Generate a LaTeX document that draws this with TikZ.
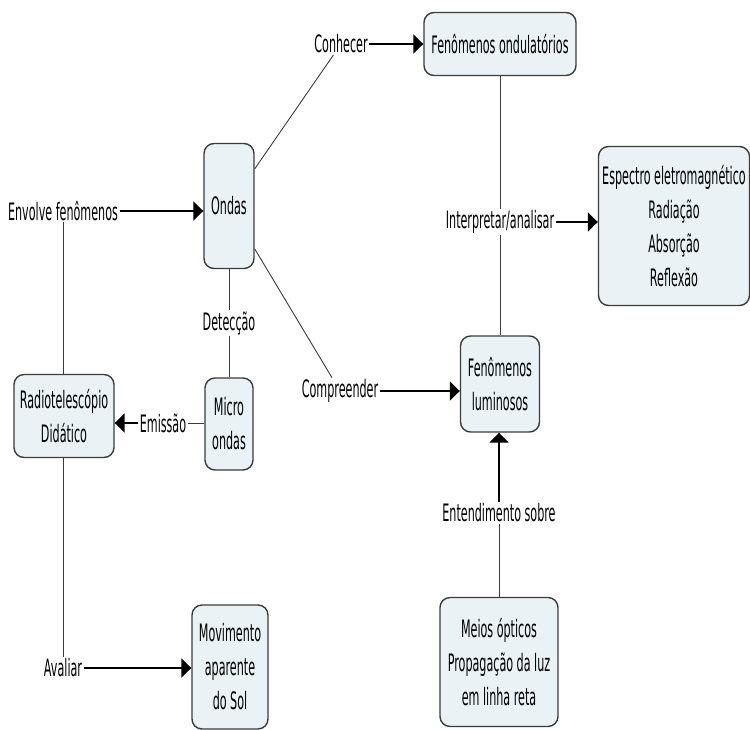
\documentclass[tikz,border=0pt]{standalone}
\usepackage{fontspec}
\setmainfont{DejaVu Sans}[FakeStretch=0.465]
\usetikzlibrary{arrows.meta}
\definecolor{boxfill}{RGB}{234,242,245}
\definecolor{edgegray}{RGB}{60,60,60}
\begin{document}
\begin{tikzpicture}[x=1pt,y=-1pt,
  concept/.style={draw=edgegray,line width=1.4pt,fill=boxfill,rounded corners=10pt,
    align=center,inner sep=0pt,font=\fontsize{24}{34}\selectfont},
  lbl/.style={fill=white,inner sep=1.5pt,font=\fontsize{24}{34}\selectfont},
  link/.style={draw=edgegray,line width=0.9pt},
  arr/.style={draw=black,line width=1.8pt,-{Triangle[length=10pt,width=19pt]}}]
\fill[white] (0,0) rectangle (750,729);
\useasboundingbox (0,0) rectangle (750,729);
% concepts
\node[concept,minimum width=152pt,minimum height=63pt] (fondul) at (500,44) {Fenômenos ondulatórios};
\node[concept,minimum width=50pt,minimum height=125pt] (ondas) at (229,206) {Ondas};
\node[concept,minimum width=151pt,minimum height=159pt] (espectro) at (674,226) {Espectro eletromagnético\\Radiação\\Absorção\\Reflexão};
\node[concept,minimum width=100pt,minimum height=83pt] (radio) at (64,416) {Radiotelescópio\\Didático};
\node[concept,minimum width=48pt,minimum height=92pt] (micro) at (229,424) {Micro\\ondas};
\node[concept,minimum width=79pt,minimum height=96pt] (flum) at (500,384) {Fenômenos\\luminosos};
\node[concept,minimum width=76pt,minimum height=124pt] (movim) at (230,667) {Movimento\\aparente\\do Sol};
\node[concept,minimum width=118pt,minimum height=129pt] (meios) at (499,662) {Meios ópticos\\Propagação da luz\\em linha reta};
% labels
\node[lbl] (conhecer) at (341,44) {Conhecer};
\node[lbl] (envolve) at (63,211) {Envolve fenômenos};
\node[lbl] (detec) at (229,323) {Detecção};
\node[lbl] (emissao) at (163,423) {Emissão};
\node[lbl] (compr) at (340,391) {Compreender};
\node[lbl] (interp) at (500,222) {Interpretar/analisar};
\node[lbl] (entend) at (499,513) {Entendimento sobre};
\node[lbl] (avaliar) at (63,668) {Avaliar};
% connectors
\draw[link] (ondas) -- (conhecer);
\draw[arr] (conhecer.east) -- (fondul.west |- conhecer.east);
\draw[link] (envolve) -- (envolve |- radio.north);
\draw[arr] (envolve.east) -- (envolve.east -| ondas.west);
\draw[link] (ondas) -- (detec);
\draw[link] (detec) -- (micro);
\draw[link] (micro.west |- emissao) -- (emissao);
\draw[arr] (emissao.west) -- (emissao.west -| radio.east);
\draw[link] (ondas) -- (compr);
\draw[arr] (compr.east) -- (compr.east -| flum.west);
\draw[link] (fondul) -- (interp);
\draw[link] (interp) -- (flum);
\draw[arr] (interp.east) -- (interp.east -| espectro.west);
\draw[link] (meios) -- (entend);
\draw[arr] (entend.north) -- (entend.north |- flum.south);
\draw[link] (radio.south -| avaliar) -- (avaliar);
\draw[arr] (avaliar.east) -- (avaliar.east -| movim.west);
\end{tikzpicture}
\end{document}
